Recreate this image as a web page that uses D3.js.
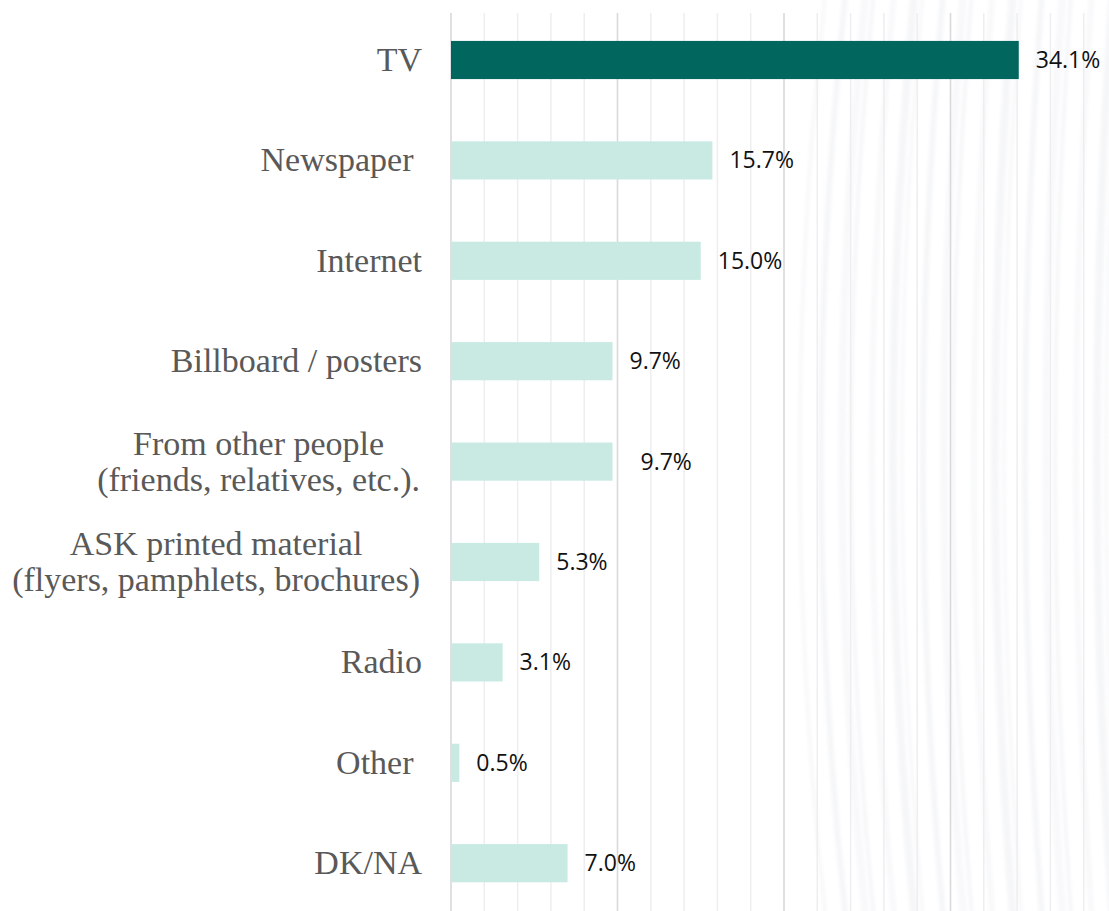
<!DOCTYPE html>
<html>
<head>
<meta charset="utf-8">
<script src="https://cdn.jsdelivr.net/npm/d3@7"></script>
<style>
  html, body { margin: 0; padding: 0; background: #ffffff; }
  svg { display: block; }
  text { white-space: pre; }
</style>
</head>
<body>
<svg id="chart" width="1109" height="911"></svg>
<script>
// Source of information — share of respondents (%)
const categories = [
  ["TV"],
  ["Newspaper "],
  ["Internet"],
  ["Billboard / posters"],
  ["From other people", "(friends, relatives, etc.)."],
  ["ASK printed material", "(flyers, pamphlets, brochures)"],
  ["Radio"],
  ["Other "],
  ["DK/NA"]
];
const values = [34.1, 15.7, 15.0, 9.7, 9.7, 5.3, 3.1, 0.5, 7.0];
const valueLabels = ["34.1%", "15.7%", "15.0%", "9.7%", "9.7%", "5.3%", "3.1%", "0.5%", "7.0%"];
const highlightIndex = 0;

const W = 1109, H = 911;
const svg = d3.select("#chart");

const x = d3.scaleLinear().domain([0, 40]).range([451, 1117]);
const y = d3.scaleBand()
  .domain(d3.range(categories.length))
  .range([9.8, 913.4])
  .paddingInner(0.62)
  .paddingOuter(0.31);

// faint arc texture in the background on the right
const defs = svg.append("defs");
defs.append("filter").attr("id", "soft")
  .append("feGaussianBlur").attr("stdDeviation", 1.5);
const tex = svg.append("g").attr("opacity", 0.5).attr("filter", "url(#soft)");
d3.range(20).forEach(i => {
  const left = 800 + i * 17 + (i % 3) * 4;
  const r = 4200 + i * 160;
  const cx = left + r;
  const half = Math.asin(480 / r);
  const p = d3.path();
  p.arc(cx, 455, r, Math.PI - half, Math.PI + half, false);
  tex.append("path")
    .attr("d", p.toString())
    .attr("fill", "none")
    .attr("stroke", i % 2 ? "#eceef2" : "#f2f3f6")
    .attr("stroke-width", 4 + (i % 3) * 2);
});

// gridlines: minor every 2, major every 10
const grid = svg.append("g");
const minorTicks = d3.range(0, 41, 2).filter(v => v % 10 !== 0);
const majorTicks = d3.range(0, 41, 10);
grid.selectAll("line.minor").data(minorTicks).join("line")
  .attr("class", "minor")
  .attr("x1", d => x(d)).attr("x2", d => x(d))
  .attr("y1", 13).attr("y2", H)
  .attr("stroke", "#eeeef0").attr("stroke-width", 1.5);
grid.selectAll("line.major").data(majorTicks).join("line")
  .attr("class", "major")
  .attr("x1", d => x(d)).attr("x2", d => x(d))
  .attr("y1", 13).attr("y2", H)
  .attr("stroke", "#d9d9db").attr("stroke-width", 1.6);

// bars
svg.append("g").selectAll("rect").data(values).join("rect")
  .attr("x", x(0))
  .attr("y", (d, i) => y(i))
  .attr("width", d => x(d) - x(0))
  .attr("height", y.bandwidth())
  .attr("fill", (d, i) => i === highlightIndex ? "#01665e" : "#c8eae3");

// value labels
const labelNudge = { 4: 11 };
svg.append("g").selectAll("text").data(values).join("text")
  .attr("x", (d, i) => x(d) + 17 + (labelNudge[i] || 0))
  .attr("y", (d, i) => y(i) + y.bandwidth() / 2 + 8)
  .attr("font-family", "'Open Sans', sans-serif")
  .attr("font-size", 23)
  .attr("fill", "#111111")
  .text((d, i) => valueLabels[i]);

// category labels (multi-line labels are centred as a block)
const labelRight = 422;
const lineGap = 36;
const catG = svg.append("g")
  .attr("font-family", "'Liberation Serif', 'Times New Roman', serif")
  .attr("font-size", 34)
  .attr("fill", "#595959");
categories.forEach((lines, i) => {
  const cy = y(i) + y.bandwidth() / 2;
  const n = lines.length;
  const texts = lines.map((ln, j) => catG.append("text")
    .attr("y", cy + (j - (n - 1) / 2) * lineGap + 11)
    .text(ln));
  if (n === 1) {
    texts[0].attr("x", labelRight).attr("text-anchor", "end");
  } else {
    const maxW = d3.max(texts, t => t.node().getComputedTextLength());
    texts.forEach(t => t.attr("x", labelRight - 2 - maxW / 2).attr("text-anchor", "middle"));
  }
});
</script>
</body>
</html>
